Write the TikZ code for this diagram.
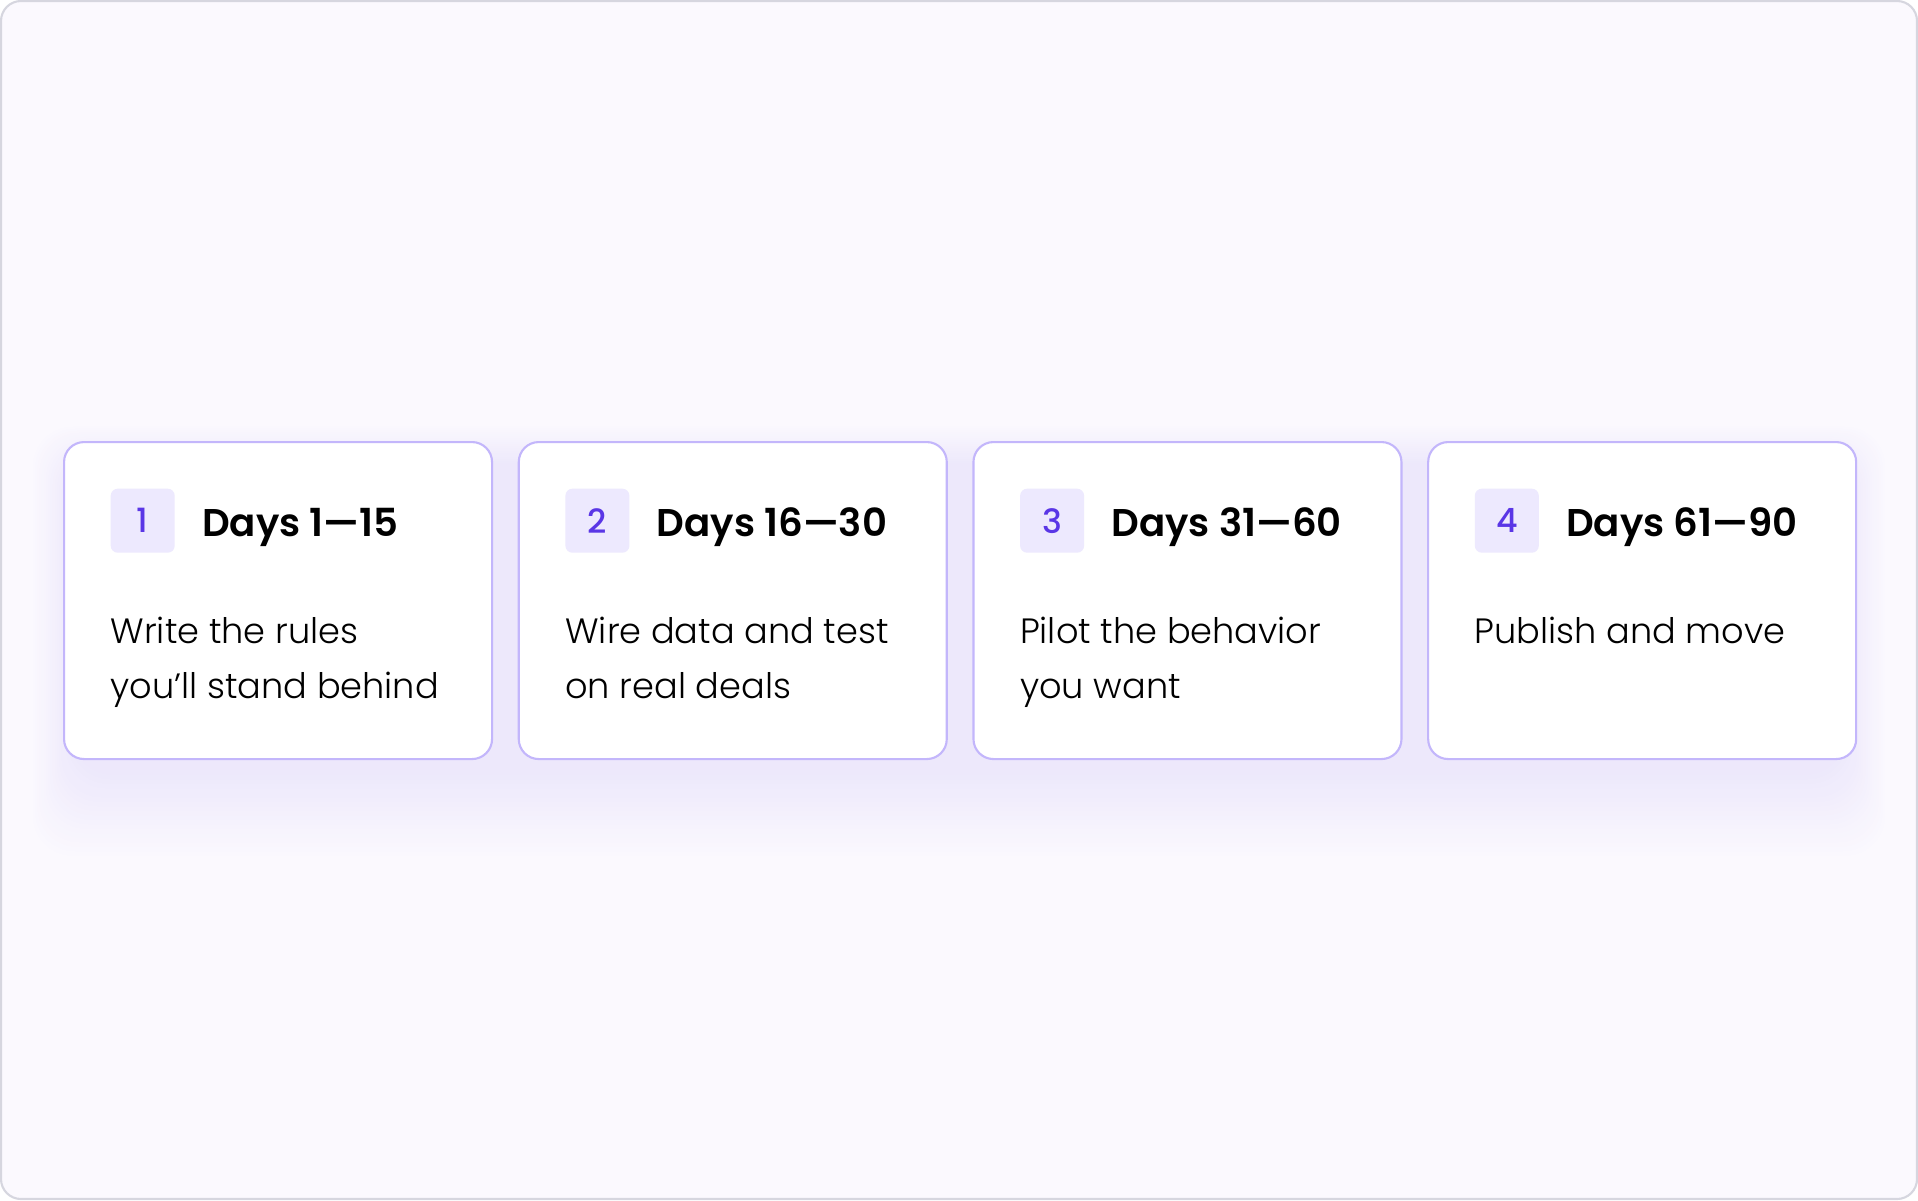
\documentclass[tikz,border=0pt]{standalone}
\usepackage{fontspec}
\setmainfont{Poppins}
\newfontfamily\bodyfont{Poppins}[UprightFont=* Light]
\newfontfamily\headfont{Poppins}[UprightFont=* SemiBold]
\newfontfamily\numfont{Poppins}[UprightFont=* Medium]
\usetikzlibrary{positioning}

\definecolor{pagebg}{HTML}{FBF9FE}
\definecolor{pageline}{HTML}{D6D6DF}
\definecolor{cardline}{HTML}{C3B6FB}
\definecolor{badgefill}{HTML}{EDE9FE}
\definecolor{badgetext}{HTML}{5A36E6}
\definecolor{glow}{HTML}{ECE7FB}

\tikzset{
    card/.style={draw=cardline, fill=white, line width=0.6pt, rounded corners=0.2cm,
        minimum width=4.28cm, minimum height=3.17cm, inner sep=0pt, anchor=north west},
    badge/.style={fill=badgefill, rounded corners=0.07cm, minimum size=0.64cm, inner sep=0pt,
        text=badgetext, font=\numfont\fontsize{9.5}{11}\selectfont},
    phase/.style={inner sep=0pt, font=\headfont\fontsize{11}{13}\selectfont},
    task/.style={inner sep=0pt, align=left, font=\bodyfont\fontsize{10}{15.6}\selectfont}
}

\begin{document}
\begin{tikzpicture}
    % Page
    \useasboundingbox (0,0) rectangle (19.18,12);
    \draw[pageline, fill=pagebg, line width=0.6pt, rounded corners=0.2cm] (0.01,0.01) rectangle (19.17,11.99);

    % Soft glow under the row of cards
    \foreach \k in {20,...,1} {
        \pgfmathsetmacro\mix{\k*5}
        \fill[pagebg!\mix!glow, rounded corners=0.4cm]
            (0.75-\k*0.022, 4.3-\k*0.045) rectangle (18.43+\k*0.022, 7.35+\k*0.02);
    }

    % Phase cards
    \foreach \i/\days/\desc in {
        1/{Days 1—15}/{Write the rules\\you’ll stand behind},
        2/{Days 16—30}/{Wire data and test\\on real deals},
        3/{Days 31—60}/{Pilot the behavior\\you want},
        4/{Days 61—90}/{Publish and move}
    } {
        \node[card] (card\i) at (0.63+\i*4.547-4.547, 7.59) {};
        \node[badge, below right=0.47cm and 0.47cm of card\i.north west] (badge\i) {\i};
        \node[phase, right=0.26cm of badge\i.east, anchor=base west, yshift=-0.16cm] (days\i) {\days};
        \node[task, below right=0.63cm and 0cm of badge\i.south west] (task\i) {\desc};
    }
\end{tikzpicture}
\end{document}
